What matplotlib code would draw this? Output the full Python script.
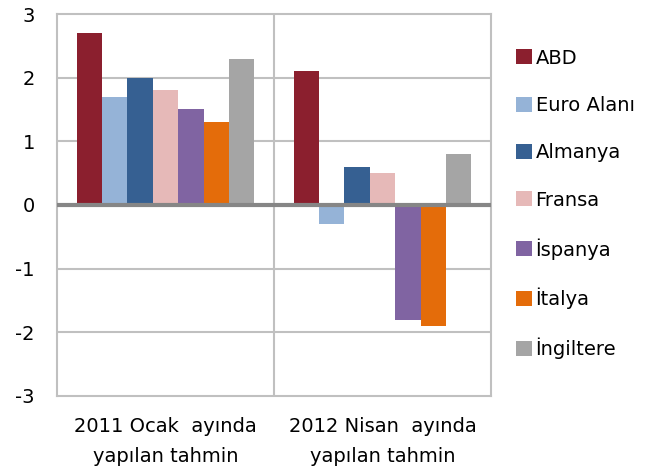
import matplotlib.pyplot as plt
import numpy as np

plt.rcParams["axes.unicode_minus"] = False

# ---------- data ----------
groups = ["2011 Ocak  ayında\nyapılan tahmin", "2012 Nisan  ayında\nyapılan tahmin"]
countries = ["ABD", "Euro Alanı", "Almanya", "Fransa", "İspanya", "İtalya", "İngiltere"]
abd = [2.7, 2.1]
euro = [1.7, -0.3]
almanya = [2.0, 0.6]
fransa = [1.8, 0.5]
ispanya = [1.5, -1.8]
italya = [1.3, -1.9]
ingiltere = [2.3, 0.8]
colors = ["#8B1F2E", "#95B3D7", "#366092", "#E6B9B8", "#8064A2", "#E46C0A", "#A5A5A5"]

series = [abd, euro, almanya, fransa, ispanya, italya, ingiltere]

fig = plt.figure(figsize=(6.49, 4.73), dpi=100)
ax = fig.add_axes([0.0878, 0.1628, 0.6687, 0.8076])

x = np.arange(len(groups))
w = 0.82 / len(series)
for i, (vals, c, name) in enumerate(zip(series, colors, countries)):
    ax.bar(x - 0.41 + w * (i + 0.5), vals, width=w, color=c, label=name, zorder=3)

ax.set_xlim(-0.5, 1.5)
ax.set_ylim(-3, 3)
ax.set_yticks(range(-3, 4))
ax.set_xticks(x)
ax.set_xticklabels(groups, fontsize=13, linespacing=1.75)

# grid
for yv in range(-2, 3):
    ax.axhline(yv, color="#c0c0c0", lw=1.5, zorder=1)
ax.axvline(0.5, color="#c0c0c0", lw=1.5, zorder=1)
ax.axhline(0, color="#868686", lw=3, zorder=4)

for s in ax.spines.values():
    s.set_color("#c0c0c0")
    s.set_linewidth(1.5)
ax.tick_params(length=0, labelsize=14)
ax.tick_params(axis="x", pad=15)
ax.tick_params(axis="y", pad=16)

ax.legend(loc="upper left", bbox_to_anchor=(1.04, 0.93), frameon=False, fontsize=14,
          handlelength=0.8, handleheight=0.8, handletextpad=0.2, labelspacing=1.46,
          borderaxespad=0)

plt.savefig("out.png", dpi=100)
